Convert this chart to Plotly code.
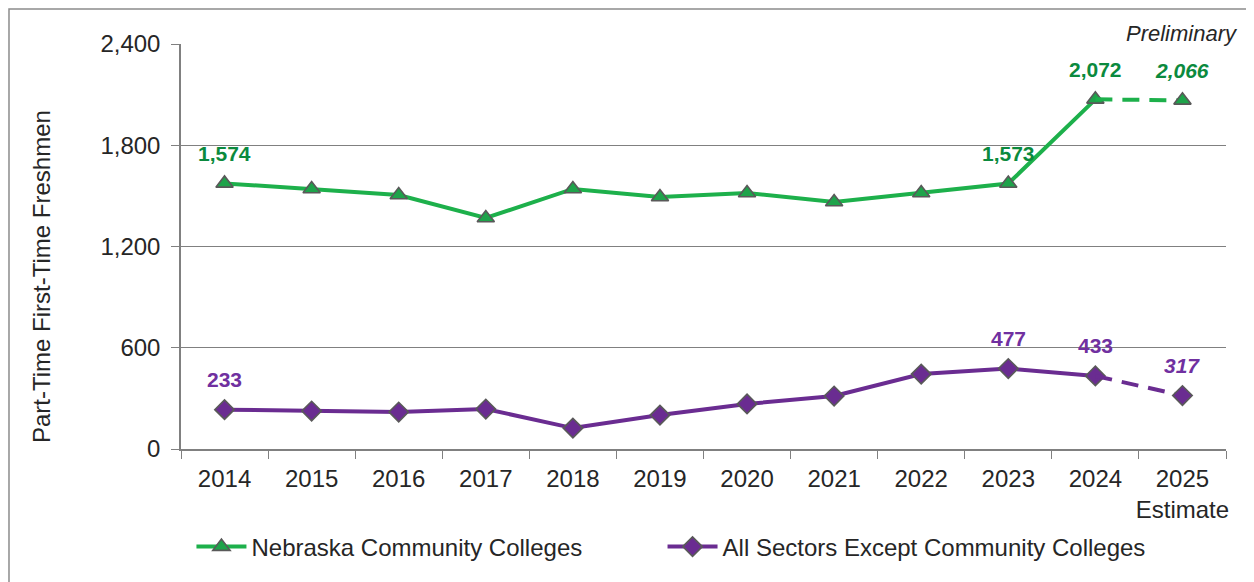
import plotly.graph_objects as go

years = ["2014", "2015", "2016", "2017", "2018", "2019", "2020", "2021", "2022", "2023", "2024", "2025<br>Estimate"]
nebraska_cc = [1574, 1541, 1505, 1369, 1541, 1493, 1517, 1464, 1517, 1573, 2072, 2066]
all_except_cc = [233, 225, 219, 237, 124, 201, 267, 314, 444, 477, 433, 317]
labeled_idx = [0, 9, 10, 11]
italic_idx = [11]
y_ticks = [0, 600, 1200, 1800, 2400]
y_ticktext = ["0", "600", "1,200", "1,800", "2,400"]

GREEN_LINE = "#1db04b"
GREEN_TEXT = "#0b8a3e"
PURPLE_LINE = "#6a2c91"
PURPLE_TEXT = "#7030a0"
EDGE = "#595959"
FONT = "Liberation Sans, Arial, sans-serif"
TXT = "#262626"

xpos = list(range(len(years)))

fig = go.Figure()

fig.add_trace(go.Scatter(
    x=xpos[:11], y=nebraska_cc[:11], mode="lines+markers",
    name="Nebraska Community Colleges", legend="legend",
    line=dict(color=GREEN_LINE, width=4),
    marker=dict(symbol="triangle-up", size=15, color="#1ea34a", line=dict(color=EDGE, width=1.6)),
))
fig.add_trace(go.Scatter(
    x=xpos[10:], y=nebraska_cc[10:], mode="lines",
    line=dict(color=GREEN_LINE, width=4, dash="17px,10px"), showlegend=False,
))
fig.add_trace(go.Scatter(
    x=xpos[11:], y=nebraska_cc[11:], mode="markers",
    marker=dict(symbol="triangle-up", size=15, color="#1ea34a", line=dict(color=EDGE, width=1.6)),
    showlegend=False,
))

fig.add_trace(go.Scatter(
    x=xpos[:11], y=all_except_cc[:11], mode="lines+markers",
    name="All Sectors Except Community Colleges", legend="legend2",
    line=dict(color=PURPLE_LINE, width=4),
    marker=dict(symbol="diamond", size=15, color=PURPLE_LINE, line=dict(color=EDGE, width=1.6)),
))
fig.add_trace(go.Scatter(
    x=xpos[10:], y=all_except_cc[10:], mode="lines",
    line=dict(color=PURPLE_LINE, width=4, dash="17px,10px"), showlegend=False,
))
fig.add_trace(go.Scatter(
    x=xpos[11:], y=all_except_cc[11:], mode="markers",
    marker=dict(symbol="diamond", size=15, color=PURPLE_LINE, line=dict(color=EDGE, width=1.6)),
    showlegend=False,
))

annotations = []
for series, color in ((nebraska_cc, GREEN_TEXT), (all_except_cc, PURPLE_TEXT)):
    for i in labeled_idx:
        txt = f"{series[i]:,}"
        if i in italic_idx:
            txt = f"<i>{txt}</i>"
        annotations.append(dict(
            x=xpos[i], y=series[i], text=f"<b>{txt}</b>", showarrow=False,
            yshift=30, font=dict(family=FONT, size=21, color=color),
        ))

annotations.append(dict(
    xref="paper", yref="paper", x=1.0135, y=1.025, xanchor="right", yanchor="middle",
    text="<i>Preliminary</i>", showarrow=False,
    font=dict(family=FONT, size=22, color=TXT),
))
annotations.append(dict(
    xref="paper", yref="paper", x=-0.133, y=0.4247, xanchor="center", yanchor="middle",
    text="Part-Time First-Time Freshmen", textangle=-90, showarrow=False,
    font=dict(family=FONT, size=24, color=TXT),
))

legend_style = dict(
    orientation="h", xanchor="left", y=-0.242, yanchor="middle",
    font=dict(family=FONT, size=24, color=TXT), itemwidth=50,
    bgcolor="rgba(0,0,0,0)",
)

fig.update_layout(
    width=1246, height=574,
    margin=dict(l=173, r=28, t=36, b=133, autoexpand=False),
    paper_bgcolor="white", plot_bgcolor="white",
    font=dict(family=FONT, size=24, color=TXT),
    annotations=annotations,
    showlegend=True,
    legend=dict(x=0.010, **legend_style),
    legend2=dict(x=0.4608, **legend_style),
    shapes=[dict(
        type="rect", xref="paper", yref="paper",
        x0=-0.1646, x1=1.2, y0=-0.6, y1=1.0864,
        line=dict(color="#8c8c8c", width=1.5), fillcolor="rgba(0,0,0,0)", layer="below",
    )],
)

fig.update_xaxes(
    tickmode="array", tickvals=xpos, ticktext=years, tickangle=0,
    ticks="", showline=True, linecolor="#808080", linewidth=1.5,
    minor=dict(ticks="outside", ticklen=8, tickcolor="#808080", tick0=-0.5, dtick=1, showgrid=False),
    showgrid=False, range=[-0.5, 11.5], zeroline=False, automargin=False,
    ticklabelstandoff=7,
    tickfont=dict(family=FONT, size=24, color=TXT),
)
fig.update_yaxes(
    range=[0, 2400], tickvals=y_ticks, ticktext=y_ticktext,
    ticks="outside", ticklen=8, tickcolor="#808080",
    showline=True, linecolor="#808080", linewidth=1.5,
    showgrid=True, gridcolor="#808080", gridwidth=1,
    zeroline=False, ticklabelstandoff=6, automargin=False,
    tickfont=dict(family=FONT, size=24, color=TXT),
)

fig.write_html("out.html")
